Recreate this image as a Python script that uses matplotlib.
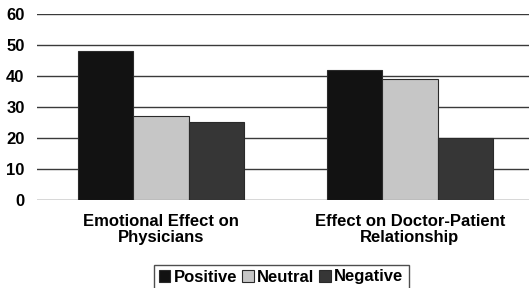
import matplotlib
matplotlib.use("Agg")
import matplotlib.pyplot as plt
import numpy as np

categories = ["Emotional Effect on\nPhysicians", "Effect on Doctor-Patient\nRelationship"]
series_names = ["Positive", "Neutral", "Negative"]
positive = [48, 42]
neutral = [27, 39]
negative = [25, 20]
yticks = [0, 10, 20, 30, 40, 50, 60]

plt.rcParams['font.family'] = ['Liberation Sans', 'DejaVu Sans']
plt.rcParams['font.weight'] = 'bold'

fig = plt.figure(figsize=(5.29, 2.88), dpi=100)
ax = fig.add_axes([0.070, 0.3056, 0.930, 0.6458])

x = np.arange(len(categories))
w = 0.223
colors = ["#121212", "#c6c6c6", "#363636"]
for i, (vals, name) in enumerate(zip([positive, neutral, negative], series_names)):
    ax.bar(x + (i - 1) * w, vals, width=w, color=colors[i], edgecolor="#2a2a2a",
           linewidth=0.8, label=name, zorder=3)

ax.set_ylim(0, 60)
ax.set_xlim(-0.498, 1.478)
ax.set_yticks(yticks)
ax.set_yticklabels([str(t) for t in yticks], fontsize=12, fontweight='bold')
ax.yaxis.grid(True, color="#3a3a3a", linewidth=1.0, zorder=0)
ax.set_axisbelow(True)
for s in ax.spines.values():
    s.set_visible(False)
ax.tick_params(axis='y', length=0, pad=9)
ax.tick_params(axis='x', length=0, pad=10)
ax.set_xticks(x)
ax.set_xticklabels(categories, fontsize=12, fontweight='bold', linespacing=1.1)

leg = fig.legend(loc='center', bbox_to_anchor=(281 / 529, 1 - 277 / 288), ncol=3,
                 frameon=True, fancybox=False, edgecolor="#222222",
                 prop={'weight': 'bold', 'size': 12}, handlelength=0.7, handleheight=0.7,
                 handletextpad=0.2, columnspacing=0.3, borderpad=0.3, borderaxespad=0)
leg.get_frame().set_linewidth(1.0)

fig.savefig("out.png", dpi=100)
